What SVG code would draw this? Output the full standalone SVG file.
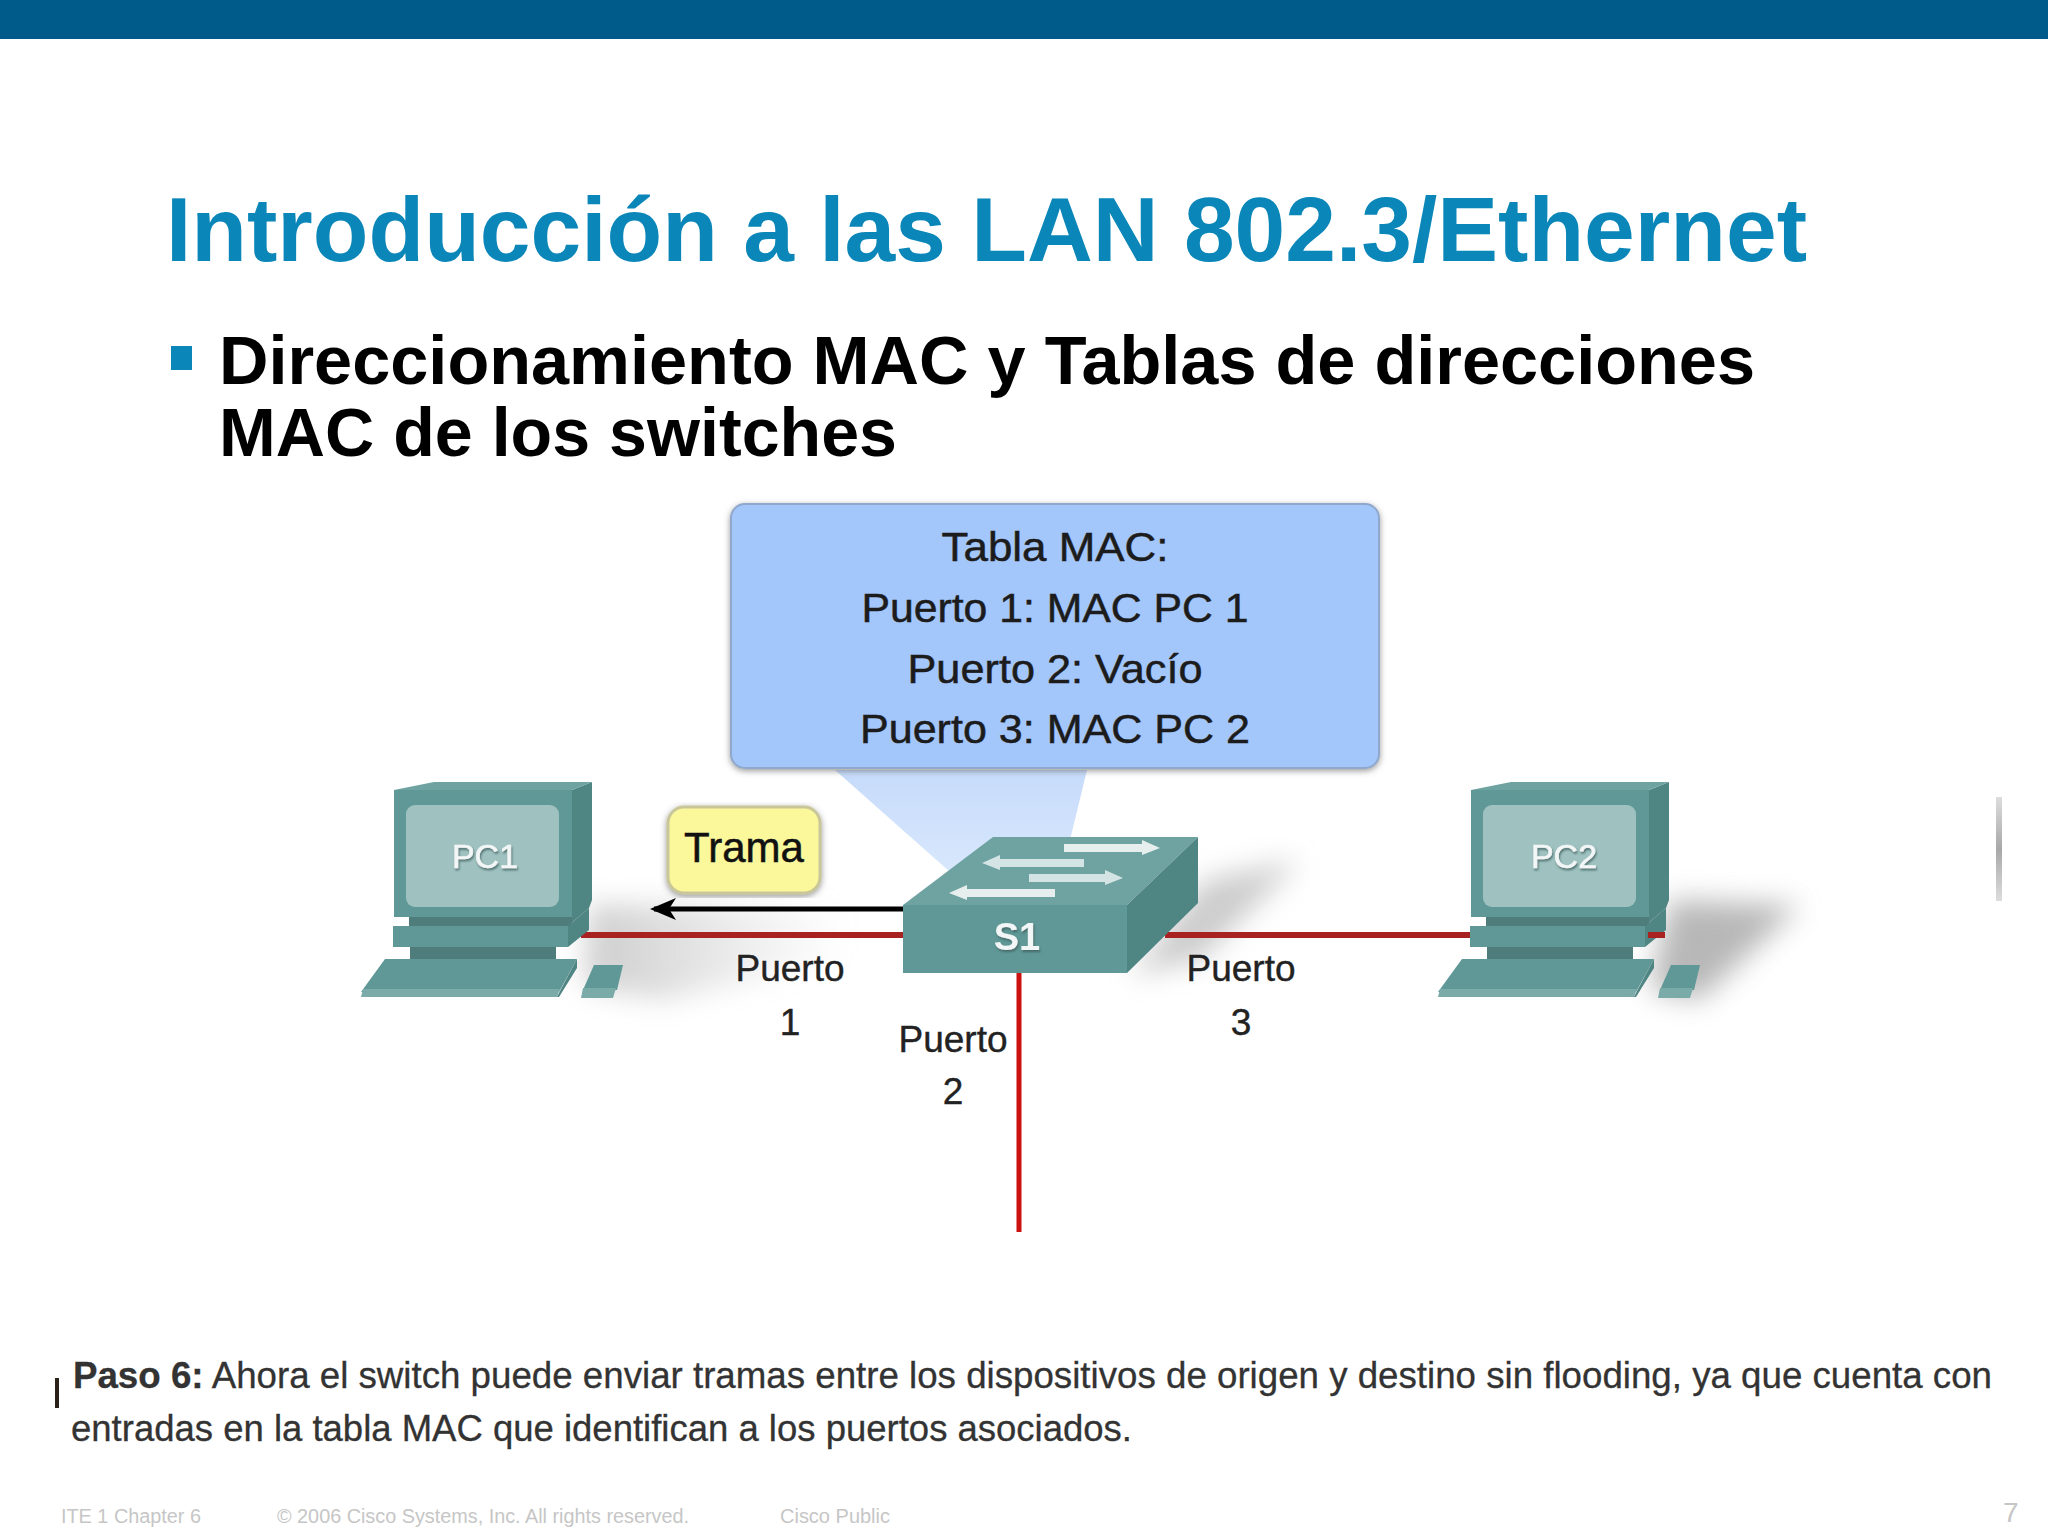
<svg xmlns="http://www.w3.org/2000/svg" xmlns:xlink="http://www.w3.org/1999/xlink" width="2048" height="1536" viewBox="0 0 2048 1536">
<style>
text{font-family:"Liberation Sans",Arial,sans-serif}
.title{font-size:90px;font-weight:bold;fill:#0a86b8}
.head{font-size:68px;font-weight:bold;fill:#000}
.tbl{font-size:40px;fill:#1c1c1c;text-anchor:middle;stroke:#1c1c1c;stroke-width:.5}
.port{font-size:37px;fill:#222;text-anchor:middle;stroke:#222;stroke-width:.4}
.body{font-size:36px;fill:#333;stroke:#333;stroke-width:.3}
.foot{font-size:20px;fill:#c6c6c6}
.pc{font-size:34px;fill:#f2f6f6;text-anchor:middle;filter:url(#ts);stroke:#f2f6f6;stroke-width:.6}
.front{fill:#5f9896}.top{fill:#6ea3a1}.side{fill:#4f8583}.dark{fill:#4f7d7b}.screen{fill:#9fc2c0}.lip{fill:#7aaba9}
.aw{fill:#e6efee}
</style>
<defs>
<filter id="blur" x="-50%" y="-50%" width="200%" height="200%"><feGaussianBlur stdDeviation="14"/></filter>
<filter id="blur2" x="-20%" y="-300%" width="140%" height="700%"><feGaussianBlur stdDeviation="3"/></filter>
<filter id="ts" x="-20%" y="-20%" width="140%" height="140%"><feDropShadow dx="1" dy="2" stdDeviation="1" flood-color="#3d5f5e" flood-opacity=".8"/></filter>
<filter id="boxs" x="-5%" y="-5%" width="110%" height="110%"><feDropShadow dx="0" dy="2" stdDeviation="3" flood-color="#555" flood-opacity=".6"/></filter>
<linearGradient id="sh" x1="0" y1="0" x2="1" y2="0"><stop offset="0" stop-color="#777" stop-opacity=".75"/><stop offset="1" stop-color="#999" stop-opacity="0"/></linearGradient>
<linearGradient id="bar" x1="0" y1="0" x2="0" y2="1"><stop offset="0" stop-color="#ddd"/><stop offset=".5" stop-color="#a8a8a8"/><stop offset="1" stop-color="#ddd"/></linearGradient>
<linearGradient id="ptr" x1="0" y1="0" x2="0" y2="1"><stop offset="0" stop-color="#c6dbfb"/><stop offset="1" stop-color="#d8e7fc"/></linearGradient>
<marker id="ah" markerUnits="userSpaceOnUse" markerWidth="26" markerHeight="26" refX="22" refY="13" orient="auto"><path d="M26 13L0 2L7 13L0 24Z" fill="#000"/></marker>
<g id="pcshape">
<path class="side" d="M572 790L592 782V900L589 908L568 926H572V917Z"/>
<path class="top" d="M394 790L434 782H592L572 790Z"/>
<rect class="front" x="394" y="790" width="178" height="127"/>
<rect class="screen" x="406" y="805" width="153" height="102" rx="9"/>
<rect class="dark" x="409" y="917" width="163" height="9"/>
<path class="side" d="M568 926L589 908V930L568 947Z"/>
<rect class="front" x="393" y="926" width="175" height="21"/>
<rect class="dark" x="410" y="947" width="146" height="12"/>
<path class="front" d="M385 959H577L559 992H361Z"/>
<path class="lip" d="M363 989H560L557 997H361Z"/>
<path class="side" d="M577 959V968L559 997H557L561 989Z"/>
<path class="front" d="M594 965H623L617 990H583Z"/>
<path class="lip" d="M583 988H616L613 998H581Z"/>
</g>
</defs>
<rect width="2048" height="1536" fill="#fff"/>
<rect id="topbar" width="2048" height="39" fill="#005a8a"/>
<text class="title" x="166" y="261" textLength="1641" lengthAdjust="spacingAndGlyphs">Introducción a las LAN 802.3/Ethernet</text>
<rect id="bullet" x="171" y="346" width="21" height="24" fill="#0a86b8"/>
<text class="head" x="219" y="384" textLength="1536" lengthAdjust="spacingAndGlyphs">Direccionamiento MAC y Tablas de direcciones</text>
<text class="head" x="219" y="456" textLength="678" lengthAdjust="spacingAndGlyphs">MAC de los switches</text>

<g id="shadows">
<path d="M590 905H850L850 960L660 1000L585 985Z" fill="url(#sh)" filter="url(#blur)" opacity=".5"/>
<path d="M1130 975L1205 880L1300 860L1200 960Z" fill="#999" filter="url(#blur)" opacity=".5"/>
<path d="M1670 900L1800 905L1700 1000L1650 990Z" fill="#888" filter="url(#blur)" opacity=".6"/>
</g>

<g id="callout">
<path d="M835 770L950 872L1070 840L1087 770Z" fill="url(#ptr)"/>
<rect x="731" y="504" width="648" height="264" rx="14" fill="#a3c6fb" stroke="#8fa8cc" stroke-width="2" filter="url(#boxs)"/>
<text class="tbl" x="1055" y="561" textLength="227" lengthAdjust="spacingAndGlyphs">Tabla MAC:</text>
<text class="tbl" x="1055" y="622" textLength="387" lengthAdjust="spacingAndGlyphs">Puerto 1: MAC PC 1</text>
<text class="tbl" x="1055" y="683" textLength="295" lengthAdjust="spacingAndGlyphs">Puerto 2: Vacío</text>
<text class="tbl" x="1055" y="743" textLength="390" lengthAdjust="spacingAndGlyphs">Puerto 3: MAC PC 2</text>
</g>

<g id="connectors">
<path d="M581 935H903M1165 935H1665" stroke="#f05050" stroke-width="11" fill="none" filter="url(#blur2)" opacity=".7"/>
<path d="M581 935H903M1165 935H1665" stroke="#a82222" stroke-width="6" fill="none"/>
<path d="M1019 973V1232" stroke="#cc1111" stroke-width="5" fill="none"/>
<path d="M903 909H654" stroke="#000" stroke-width="5" fill="none" marker-end="url(#ah)"/>
</g>

<g id="PC1">
<use xlink:href="#pcshape" href="#pcshape"/>
<text class="pc" x="485" y="868">PC1</text>
</g>
<g id="PC2">
<use xlink:href="#pcshape" href="#pcshape" x="1077"/>
<text class="pc" x="1564" y="868">PC2</text>
</g>
<path id="pc2-stub" d="M1648 935H1665" stroke="#a82222" stroke-width="6"/>

<g id="S1">
<path class="top" d="M903 905L993 837H1198L1127 905Z"/>
<path class="side" d="M1127 905L1198 837V903L1127 973Z"/>
<rect class="front" x="903" y="905" width="224" height="68"/>
<path class="aw" d="M1064 844H1142V840L1160 848L1142 855V852H1064Z"/>
<path class="aw" d="M1084 859H1000V855L982 863L1000 870V867H1084Z" opacity=".85"/>
<path class="aw" d="M1029 874H1105V870L1123 878L1105 885V882H1029Z" opacity=".85"/>
<path class="aw" d="M1055 889H967V885L949 893L967 900V897H1055Z"/>
<text x="1017" y="950" text-anchor="middle" font-size="38" font-weight="bold" fill="#f2f6f6" filter="url(#ts)">S1</text>
</g>

<g id="trama">
<rect x="668" y="807" width="152" height="86" rx="16" fill="#fbf79b" stroke="#c9c79a" stroke-width="3" filter="url(#boxs)"/>
<text x="744" y="862" text-anchor="middle" font-size="42" fill="#111" stroke="#111" stroke-width=".5">Trama</text>
</g>

<g id="labels">
<text class="port" x="790" y="981">Puerto</text>
<text class="port" x="790" y="1035">1</text>
<text class="port" x="953" y="1052">Puerto</text>
<text class="port" x="953" y="1104">2</text>
<text class="port" x="1241" y="981">Puerto</text>
<text class="port" x="1241" y="1035">3</text>
</g>

<rect id="edge-mark" x="1996" y="797" width="6" height="104" fill="url(#bar)"/>
<rect id="edge-mark-left" x="55" y="1378" width="4" height="30" fill="#2a2218"/>

<text class="body" x="73" y="1388" textLength="1919" lengthAdjust="spacingAndGlyphs"><tspan font-weight="bold">Paso 6:</tspan> Ahora el switch puede enviar tramas entre los dispositivos de origen y destino sin flooding, ya que cuenta con</text>
<text class="body" x="71" y="1441" textLength="1061" lengthAdjust="spacingAndGlyphs">entradas en la tabla MAC que identifican a los puertos asociados.</text>

<text class="foot" x="61" y="1523" textLength="140" lengthAdjust="spacingAndGlyphs">ITE 1 Chapter 6</text>
<text class="foot" x="277" y="1523" textLength="412" lengthAdjust="spacingAndGlyphs">© 2006 Cisco Systems, Inc. All rights reserved.</text>
<text class="foot" x="780" y="1523" textLength="110" lengthAdjust="spacingAndGlyphs">Cisco Public</text>
<text x="2003" y="1522" font-size="28" fill="#c6c6c6">7</text>
</svg>
